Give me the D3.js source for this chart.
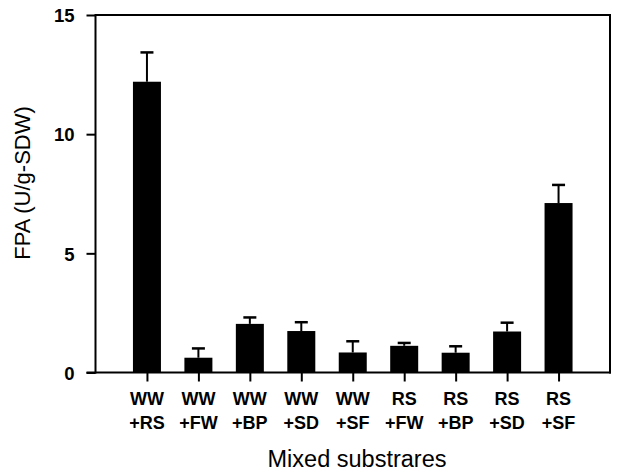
<!DOCTYPE html>
<html>
<head>
<meta charset="utf-8">
<script src="https://cdn.jsdelivr.net/npm/d3@7"></script>
<style>
  html, body { margin: 0; padding: 0; background: #fff; }
  svg { display: block; }
  text { font-family: Arial, "Liberation Sans", Helvetica, sans-serif; fill: #000; }
</style>
</head>
<body>
<svg id="chart" width="617" height="473"></svg>
<script>
// ---- data ----
const categories = ["WW+RS", "WW+FW", "WW+BP", "WW+SD", "WW+SF", "RS+FW", "RS+BP", "RS+SD", "RS+SF"];
const labelLine1 = ["WW", "WW", "WW", "WW", "WW", "RS", "RS", "RS", "RS"];
const labelLine2 = ["+RS", "+FW", "+BP", "+SD", "+SF", "+FW", "+BP", "+SD", "+SF"];
const fpaValues = [12.2, 0.62, 2.04, 1.74, 0.84, 1.12, 0.83, 1.72, 7.11];
const fpaErrors = [1.23, 0.39, 0.27, 0.37, 0.47, 0.12, 0.27, 0.37, 0.76];
const yTicks = [0, 5, 10, 15];

// ---- layout ----
const svg = d3.select("#chart");
const mLeft = 95.5, mRight = 610, mTop = 15, mBottom = 372.5;

const x = d3.scalePoint().domain(categories).range([mLeft, mRight]).padding(1);
const y = d3.scaleLinear().domain([0, 15]).range([mBottom, mTop]);
const barW = 28;

// frame (top and right lines)
svg.append("line").attr("x1", mLeft).attr("x2", mRight).attr("y1", mTop).attr("y2", mTop)
  .attr("stroke", "#000").attr("stroke-width", 2);
svg.append("line").attr("x1", mRight).attr("x2", mRight).attr("y1", mTop - 1).attr("y2", mBottom + 1)
  .attr("stroke", "#000").attr("stroke-width", 2);

// bars
svg.selectAll("rect.bar").data(categories).enter().append("rect")
  .attr("class", "bar")
  .attr("x", (d) => x(d) - barW / 2)
  .attr("width", barW)
  .attr("y", (d, i) => y(fpaValues[i]))
  .attr("height", (d, i) => y(0) - y(fpaValues[i]))
  .attr("fill", "#000");

// error bars (upper only)
const eb = svg.selectAll("g.err").data(categories).enter().append("g").attr("class", "err");
eb.append("line")
  .attr("x1", (d) => x(d)).attr("x2", (d) => x(d))
  .attr("y1", (d, i) => y(fpaValues[i]))
  .attr("y2", (d, i) => y(fpaValues[i] + fpaErrors[i]))
  .attr("stroke", "#000").attr("stroke-width", 2);
eb.append("line")
  .attr("x1", (d) => x(d) - 6.5).attr("x2", (d) => x(d) + 6.5)
  .attr("y1", (d, i) => y(fpaValues[i] + fpaErrors[i]))
  .attr("y2", (d, i) => y(fpaValues[i] + fpaErrors[i]))
  .attr("stroke", "#000").attr("stroke-width", 2.5);

// y axis
const yAxis = d3.axisLeft(y).tickValues(yTicks).tickSize(9).tickPadding(12).tickFormat(d3.format("d"));
const gy = svg.append("g").attr("transform", `translate(${mLeft},0)`).call(yAxis);
gy.select(".domain").attr("stroke-width", 2).attr("d", `M0,${mTop - 1}V${mBottom + 1}`);
gy.selectAll(".tick line").attr("stroke-width", 2);
gy.selectAll(".tick text").style("font-size", "18.5px").style("font-weight", "bold")
  .style("font-family", "Arial, 'Liberation Sans', sans-serif").attr("dy", "0.36em");

// x axis
const xAxis = d3.axisBottom(x).tickSize(9).tickFormat("");
const gx = svg.append("g").attr("transform", `translate(0,${mBottom})`).call(xAxis);
gx.select(".domain").attr("stroke-width", 2).attr("d", `M${mLeft - 9},0H${mRight + 1}`);
gx.selectAll(".tick line").attr("stroke-width", 2);

// x tick labels (two lines)
const xl = svg.append("g");
xl.selectAll("text.l1").data(categories).enter().append("text")
  .attr("x", (d) => x(d)).attr("y", 405)
  .attr("text-anchor", "middle")
  .style("font-size", "18px").style("font-weight", "bold")
  .text((d, i) => labelLine1[i]);
xl.selectAll("text.l2").data(categories).enter().append("text")
  .attr("x", (d) => x(d)).attr("y", 429)
  .attr("text-anchor", "middle")
  .style("font-size", "18px").style("font-weight", "bold")
  .text((d, i) => labelLine2[i]);

// axis titles
svg.append("text")
  .attr("x", 357).attr("y", 467)
  .attr("text-anchor", "middle")
  .style("font-size", "23.5px")
  .text("Mixed substrares");

svg.append("text")
  .attr("transform", `translate(30,183) rotate(-90)`)
  .attr("text-anchor", "middle")
  .style("font-size", "22px")
  .text("FPA (U/g-SDW)");
</script>
</body>
</html>
